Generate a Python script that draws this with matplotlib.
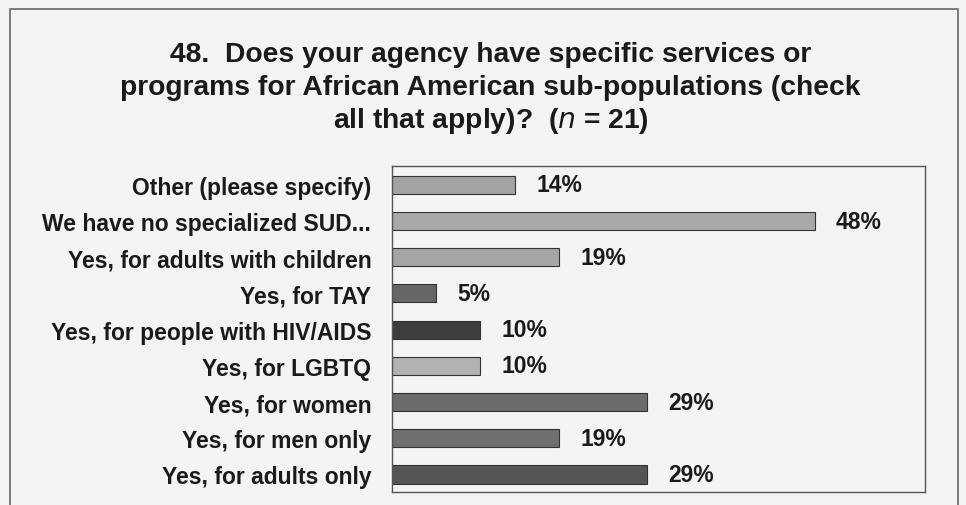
import matplotlib
matplotlib.use('Agg')
import matplotlib.pyplot as plt
from matplotlib.patches import Rectangle

plt.rcParams['font.family'] = ['Liberation Sans', 'DejaVu Sans']

categories = ['Other (please specify)', 'We have no specialized SUD...',
              'Yes, for adults with children', 'Yes, for TAY',
              'Yes, for people with HIV/AIDS', 'Yes, for LGBTQ',
              'Yes, for women', 'Yes, for men only', 'Yes, for adults only']
values = [14, 48, 19, 5, 10, 10, 29, 19, 29]
colors = ['#a3a3a3', '#a9a9a9', '#a6a6a6', '#666666', '#3e3e3e',
          '#b2b2b2', '#6c6c6c', '#6f6f6f', '#555555']

bg = '#f4f4f4'
txt = '#1a1a1a'
fig = plt.figure(figsize=(9.66, 5.06), dpi=100, facecolor=bg)
ax = fig.add_axes([0.406, 0.026, 0.552, 0.644], facecolor=bg)

y = list(range(len(categories)))
ax.barh(y, values, height=0.5, color=colors, edgecolor='#333333', linewidth=0.8)
for yi, v in zip(y, values):
    ax.text(v + 2.4, yi, f'{v}%', va='center', ha='left', fontsize=16.5,
            fontweight='bold', color=txt)

ax.set_xlim(0, 60.6)
ax.set_ylim(8.48, -0.52)
ax.set_yticks(y)
ax.set_yticklabels(categories, fontsize=16.5, fontweight='bold', color=txt)
ax.tick_params(axis='y', length=0, pad=15)
ax.set_xticks([])
for s in ax.spines.values():
    s.set_color('#555555')
    s.set_linewidth(1)

title_lines = ['48.  Does your agency have specific services or',
               'programs for African American sub-populations (check',
               r'all that apply)?  ($\mathbf{\it{n}}$ = 21)']
for i, line in enumerate(title_lines):
    fig.text(0.508, 0.891 - i * 0.065, line, ha='center', va='center',
             fontsize=20.3, fontweight='bold', color=txt)

fig.patches.append(Rectangle((0.01, -0.02), 0.982, 1.0, transform=fig.transFigure,
                             fill=False, edgecolor='#666666', linewidth=1.2))

fig.savefig('out.png', dpi=100, facecolor=bg)
